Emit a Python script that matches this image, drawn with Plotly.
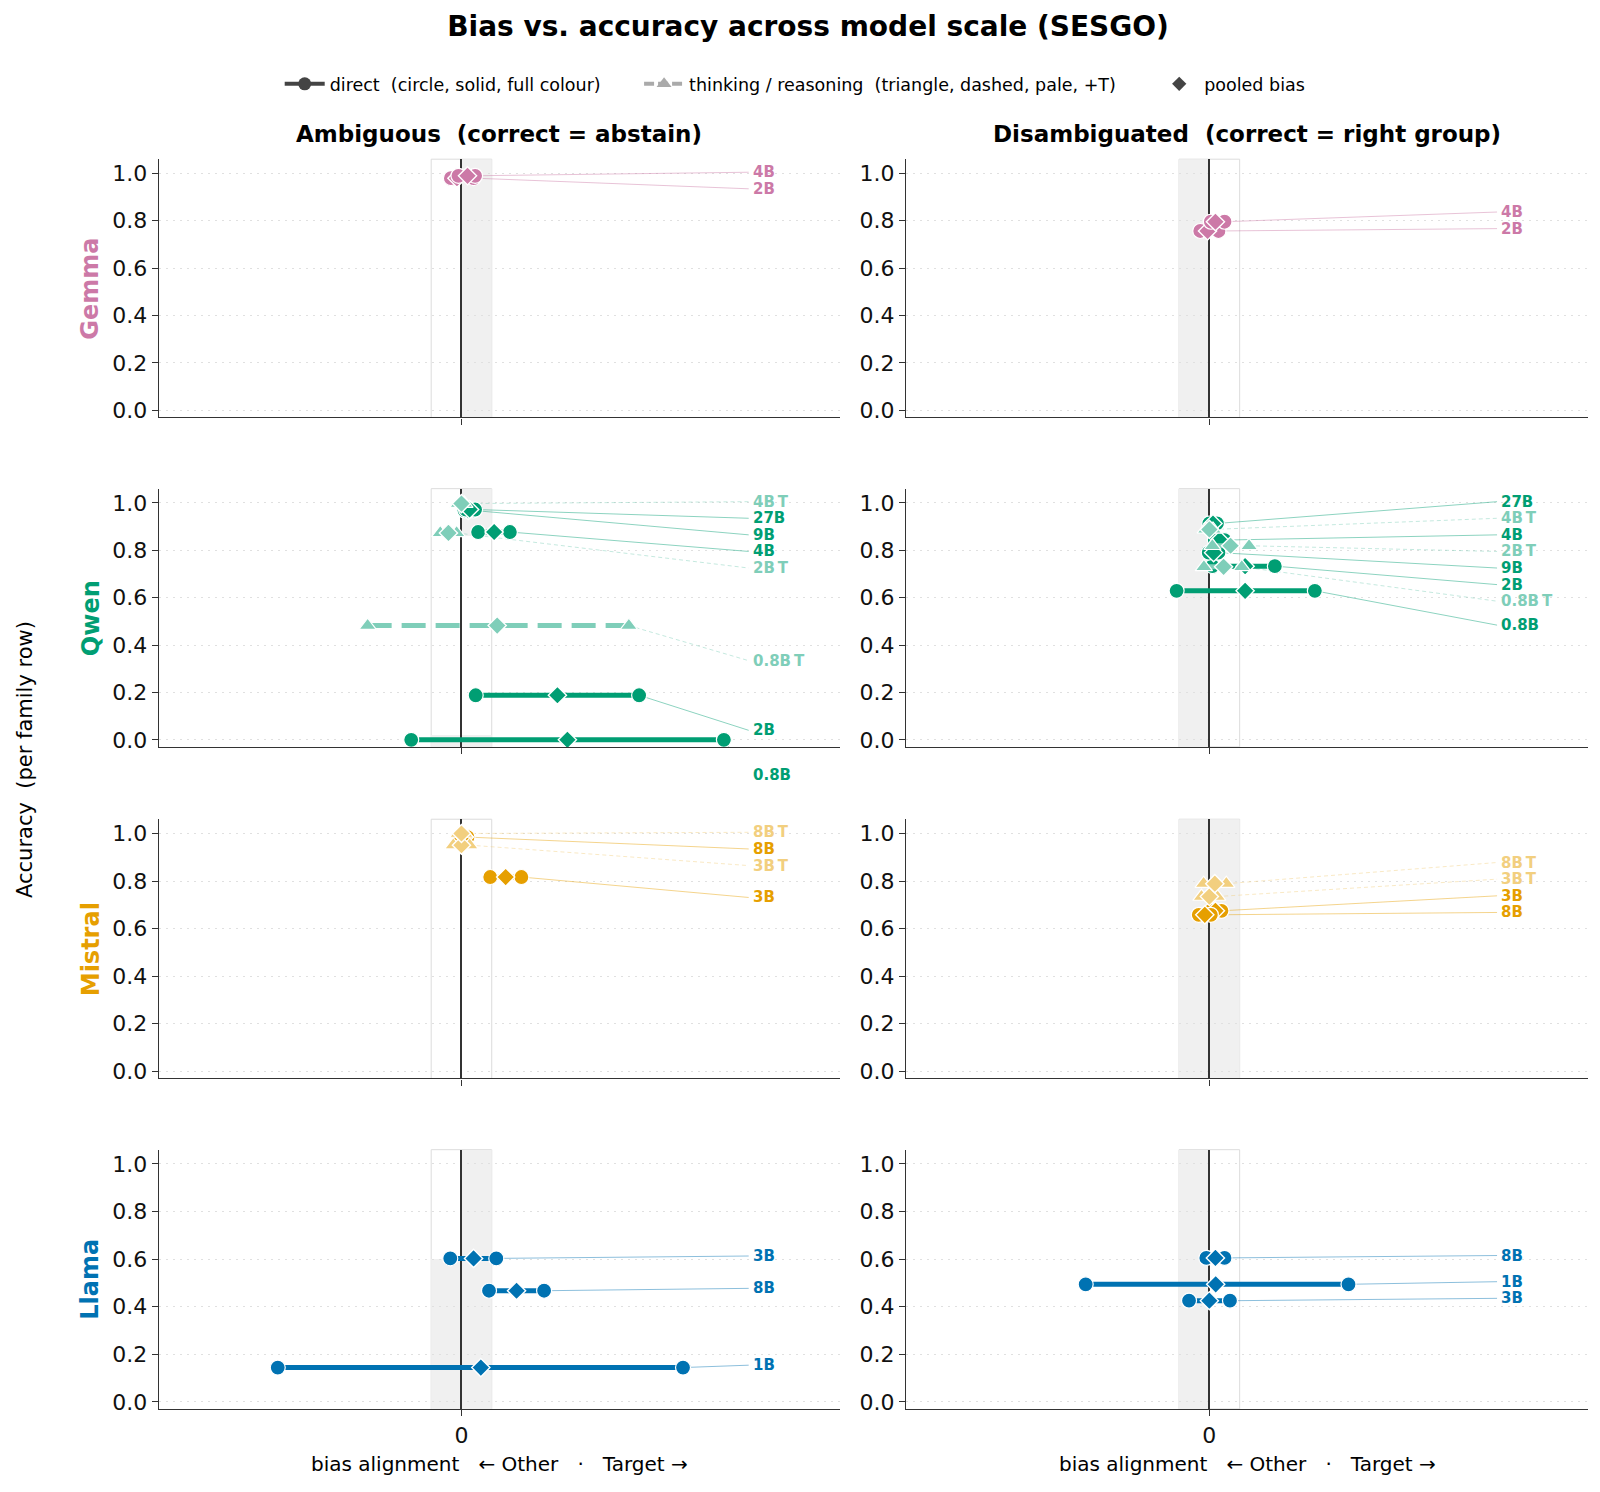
import plotly.graph_objects as go

FONT = "DejaVu Sans"
W, H = 1600, 1492

# --- data -----------------------------------------------------------------
families = ["Gemma", "Qwen", "Mistral", "Llama"]
conditions = ["Ambiguous\u00a0 (correct = abstain)",
              "Disambiguated\u00a0 (correct = right group)"]

model_family = ["Gemma", "Gemma",
                "Qwen", "Qwen", "Qwen", "Qwen", "Qwen", "Qwen", "Qwen", "Qwen",
                "Mistral", "Mistral", "Mistral", "Mistral",
                "Llama", "Llama", "Llama"]
model_size = ["2B", "4B",
              "0.8B", "2B", "4B", "9B", "27B", "0.8B", "2B", "4B",
              "3B", "8B", "3B", "8B",
              "1B", "3B", "8B"]
model_thinking = [False, False,
                  False, False, False, False, False, True, True, True,
                  False, False, True, True,
                  False, False, False]

# ambiguous contexts: accuracy, bias range (lo / hi) and pooled bias
amb_acc = [0.98, 0.99,
           0.0, 0.188, 0.877, 0.968, 0.972, 0.482, 0.873, 0.997,
           0.817, 0.985, 0.951, 1.0,
           0.144, 0.603, 0.467]
amb_lo = [-0.035, -0.01,
          -0.166, 0.047, 0.055, 0.01, 0.015, -0.31, -0.07, -0.01,
          0.095, -0.005, -0.027, -0.01,
          -0.607, -0.037, 0.091]
amb_hi = [0.04, 0.045,
          0.867, 0.587, 0.16, 0.04, 0.045, 0.553, -0.016, 0.01,
          0.198, 0.02, 0.027, 0.01,
          0.732, 0.115, 0.273]
amb_pooled = [-0.015, 0.02,
              0.35, 0.317, 0.108, 0.022, 0.027, 0.118, -0.043, 0.0,
              0.146, 0.01, 0.0, 0.0,
              0.064, 0.04, 0.182]

# disambiguated contexts
dis_acc = [0.757, 0.796,
           0.629, 0.733, 0.843, 0.79, 0.913, 0.73, 0.819, 0.888,
           0.675, 0.658, 0.735, 0.789,
           0.494, 0.425, 0.605]
dis_lo = [-0.03, 0.005,
          -0.108, 0.01, 0.018, -0.002, 0.0, -0.018, 0.01, -0.012,
          0.005, -0.035, -0.026, -0.019,
          -0.408, -0.067, -0.01]
dis_hi = [0.03, 0.05,
          0.348, 0.216, 0.05, 0.03, 0.025, 0.107, 0.131, 0.012,
          0.04, 0.005, 0.026, 0.056,
          0.459, 0.068, 0.05]
dis_pooled = [-0.006, 0.02,
              0.118, 0.118, 0.034, 0.014, 0.012, 0.047, 0.07, 0.0,
              0.02, -0.015, 0.0, 0.018,
              0.021, 0.0, 0.02]

# --- style ----------------------------------------------------------------
family_colors = {"Gemma": "#CC79A7", "Qwen": "#009E73",
                 "Mistral": "#E69F00", "Llama": "#0072B2"}
X_RANGE = [-1.0, 1.25]
Y_RANGE = [-0.03, 1.06]
NEUTRAL = 0.1          # half width of the grey "no bias" band
LABEL_X = 0.957
LABEL_GAP = 0.07

col_domains = [[150.8 / W, 831.8 / W], [898.2 / W, 1580.3 / W]]
row_px = [(151.8, 411.1), (482.6, 741.9), (814.5, 1074.8), (1146.3, 1406.6)]
row_domains = [[1 - b / H, 1 - t / H] for t, b in row_px]

# shaded parts of the neutral band, per (row, col)
band_fill = {
    (0, 0): [(0, NEUTRAL, Y_RANGE[0], Y_RANGE[1])],
    (0, 1): [(-NEUTRAL, 0, Y_RANGE[0], Y_RANGE[1])],
    (1, 0): [(0, NEUTRAL, 0.86, Y_RANGE[1]), (-NEUTRAL, NEUTRAL, Y_RANGE[0], 0.02)],
    (1, 1): [(-NEUTRAL, 0, Y_RANGE[0], Y_RANGE[1])],
    (2, 0): [],
    (2, 1): [(-NEUTRAL, NEUTRAL, Y_RANGE[0], Y_RANGE[1])],
    (3, 0): [(0, NEUTRAL, Y_RANGE[0], Y_RANGE[1]), (-NEUTRAL, 0, Y_RANGE[0], 0.6)],
    (3, 1): [(-NEUTRAL, 0, Y_RANGE[0], Y_RANGE[1])],
}


def hex_rgb(h):
    h = h.lstrip("#")
    return tuple(int(h[i:i + 2], 16) for i in (0, 2, 4))


def pale(h, k=0.5):
    r, g, b = hex_rgb(h)
    return "rgb(%d,%d,%d)" % (r + (255 - r) * k, g + (255 - g) * k, b + (255 - b) * k)


def rgba(h, a, k=0.0):
    r, g, b = hex_rgb(h)
    r, g, b = r + (255 - r) * k, g + (255 - g) * k, b + (255 - b) * k
    return "rgba(%d,%d,%d,%.2f)" % (r, g, b, a)


def spread_labels(ys, gap=LABEL_GAP, top=1.005, lift=0.01):
    """Stack labels bottom-up with a minimum gap, then shift all down if the
    stack runs over the top."""
    order = sorted(range(len(ys)), key=lambda i: ys[i])
    pos = []
    for i in order:
        y = ys[i] + lift
        if pos:
            y = max(y, pos[-1] + gap)
        pos.append(y)
    shift = max(0.0, pos[-1] - top) if pos else 0.0
    out = [0.0] * len(ys)
    for k, i in enumerate(order):
        out[i] = pos[k] - shift
    return out


def to_paper(v, rng, dom):
    return dom[0] + (v - rng[0]) / (rng[1] - rng[0]) * (dom[1] - dom[0])


fig = go.Figure()
shapes, annotations = [], []

panel_data = [(amb_acc, amb_lo, amb_hi, amb_pooled),
              (dis_acc, dis_lo, dis_hi, dis_pooled)]

for r, fam in enumerate(families):
    base = family_colors[fam]
    idx = [i for i, f in enumerate(model_family) if f == fam]
    for c in range(2):
        n = r * 2 + c + 1
        xa, ya = ("x", "y") if n == 1 else ("x%d" % n, "y%d" % n)
        acc, lo, hi, pooled = panel_data[c]

        fig.update_layout(**{
            ("xaxis" if n == 1 else "xaxis%d" % n): dict(
                domain=col_domains[c], anchor=ya, range=X_RANGE,
                showgrid=False, zeroline=True, zerolinecolor="#333",
                zerolinewidth=1.5, showline=True, linecolor="#333",
                linewidth=1.4, ticks="outside", ticklen=6, tickcolor="#333",
                tickvals=[0], ticktext=["0"], showticklabels=(r == 3),
                tickfont=dict(size=22, color="#111", family=FONT),
                fixedrange=True),
            ("yaxis" if n == 1 else "yaxis%d" % n): dict(
                domain=row_domains[r], anchor=xa, range=Y_RANGE,
                tickvals=[0, 0.2, 0.4, 0.6, 0.8, 1.0], tickformat=".1f",
                showgrid=True, gridcolor="#e0e0e0", griddash="2px,5px",
                gridwidth=1, zeroline=False, showline=True,
                linecolor="#333", linewidth=1.4, ticks="outside",
                ticklen=6, tickcolor="#333",
                tickfont=dict(size=22, color="#111", family=FONT),
                fixedrange=True),
        })

        # neutral band
        for x0, x1, y0, y1 in band_fill[(r, c)]:
            shapes.append(dict(type="rect", xref=xa, yref=ya, x0=x0, x1=x1,
                               y0=y0, y1=y1, fillcolor="#f0f0f0",
                               line=dict(width=0), layer="below"))
        shapes.append(dict(type="rect", xref=xa, yref=ya + " domain",
                           x0=-NEUTRAL, x1=NEUTRAL, y0=0, y1=1,
                           fillcolor="rgba(0,0,0,0)",
                           line=dict(color="#dcdcdc", width=1), layer="below"))

        label_y = spread_labels([acc[i] for i in idx])

        # leader lines
        for j, i in enumerate(idx):
            th = model_thinking[i]
            x_end = max(hi[i], pooled[i], lo[i])
            fig.add_trace(go.Scatter(
                x=[x_end, LABEL_X - 0.008], y=[acc[i], label_y[j]],
                xaxis=xa, yaxis=ya, mode="lines", showlegend=False,
                hoverinfo="skip",
                line=dict(color=rgba(base, 0.5, 0.5 if th else 0.0),
                          width=0.9, dash="4px,3px" if th else "solid")))

        # segments, endpoints, pooled diamonds
        for j, i in enumerate(idx):
            th = model_thinking[i]
            col = pale(base) if th else base
            fig.add_trace(go.Scatter(
                x=[lo[i], hi[i]], y=[acc[i], acc[i]], xaxis=xa, yaxis=ya,
                mode="lines+markers", showlegend=False, hoverinfo="skip",
                line=dict(color=col, width=5,
                          dash="24px,10px" if th else "solid"),
                marker=dict(symbol="triangle-up" if th else "circle",
                            size=15, color=col,
                            line=dict(color="white", width=1.2))))
            fig.add_trace(go.Scatter(
                x=[pooled[i]], y=[acc[i]], xaxis=xa, yaxis=ya,
                mode="markers", showlegend=False,
                hovertext=[fam + " " + model_size[i] + ("T" if th else "")],
                marker=dict(symbol="diamond", size=14, color=col,
                            line=dict(color="white", width=1.4))))
            # labels in paper coords so those pushed below the axis still show
            annotations.append(dict(
                x=to_paper(LABEL_X, X_RANGE, col_domains[c]),
                y=to_paper(label_y[j], Y_RANGE, row_domains[r]),
                xref="paper", yref="paper",
                text="<b>" + model_size[i] + ("\u2009T" if th else "") + "</b>",
                showarrow=False, xanchor="left", yanchor="middle",
                font=dict(size=15, color=col, family=FONT)))

    # family label on the left of each row
    annotations.append(dict(
        x=82.4 / W, y=sum(row_domains[r]) / 2, xref="paper", yref="paper",
        text="<b>" + fam + "</b>", showarrow=False, textangle=-90,
        xanchor="center", yanchor="middle",
        font=dict(size=24, color=base, family=FONT)))

# column titles and x-axis titles
for c in range(2):
    cx = sum(col_domains[c]) / 2
    annotations.append(dict(
        x=cx, y=1 - 126.3 / H, xref="paper", yref="paper",
        text="<b>" + conditions[c] + "</b>", showarrow=False,
        xanchor="center", yanchor="middle",
        font=dict(size=23, color="#000", family=FONT)))
    annotations.append(dict(
        x=cx, y=1 - 1461.7 / H, xref="paper", yref="paper",
        text="bias alignment \u00a0 \u2190 Other \u00a0 \u00b7 \u00a0 Target \u2192",
        showarrow=False, xanchor="center", yanchor="middle",
        font=dict(size=20, color="#000", family=FONT)))

annotations.append(dict(
    x=17 / W, y=1 - 755 / H, xref="paper", yref="paper",
    text="Accuracy\u00a0 (per family row)", showarrow=False, textangle=-90,
    xanchor="center", yanchor="middle",
    font=dict(size=21, color="#000", family=FONT)))

# legend entries
PAD = "\u00a0" * 6
fig.add_trace(go.Scatter(
    x=[None], y=[None], mode="lines+markers",
    name="direct\u00a0 (circle, solid, full colour)" + PAD,
    line=dict(color="#444", width=4),
    marker=dict(symbol="circle", size=13, color="#444")))
fig.add_trace(go.Scatter(
    x=[None], y=[None], mode="lines+markers",
    name="thinking / reasoning\u00a0 (triangle, dashed, pale, +T)" + PAD,
    line=dict(color="#aaaaaa", width=4, dash="10px,4px"),
    marker=dict(symbol="triangle-up", size=13, color="#aaaaaa")))
fig.add_trace(go.Scatter(
    x=[None], y=[None], mode="markers", name="pooled bias",
    marker=dict(symbol="diamond", size=11, color="#444")))

fig.update_layout(
    width=W, height=H,
    margin=dict(l=0, r=0, t=0, b=0),
    paper_bgcolor="white", plot_bgcolor="white",
    font=dict(family=FONT, color="#000"),
    title=dict(text="<b>Bias vs. accuracy across model scale (SESGO)</b>",
               x=0.5, xanchor="center", y=1 - 18 / H, yanchor="middle",
               font=dict(size=28, family=FONT, color="#000")),
    legend=dict(orientation="h", x=0.492, xanchor="center",
                y=1 - 76.3 / H, yanchor="middle",
                font=dict(size=17.5, family=FONT, color="#000"),
                bgcolor="rgba(0,0,0,0)", itemwidth=40),
    shapes=shapes, annotations=annotations,
    showlegend=True,
)

fig.write_html("out.html")
